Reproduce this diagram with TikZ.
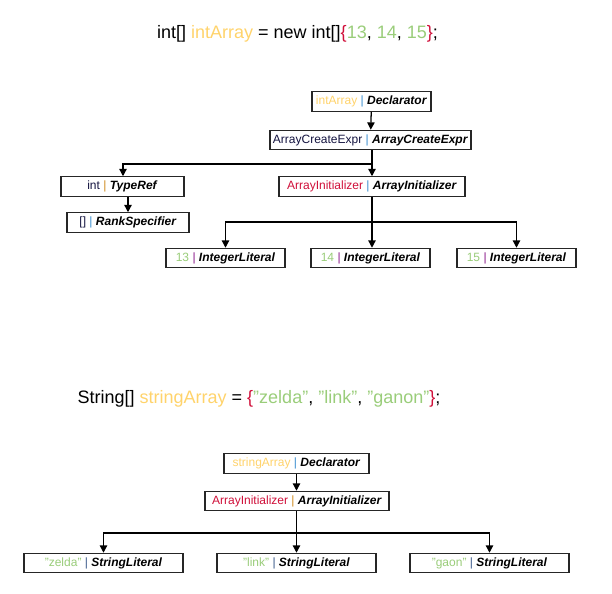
\documentclass[tikz,border=0pt]{standalone}
\usepackage{fontspec}
\setmainfont{Liberation Sans}
\usetikzlibrary{arrows.meta}
\definecolor{namecol}{HTML}{FFD36B}
\definecolor{barblue}{HTML}{3B8FD0}
\definecolor{barorange}{HTML}{D08A1E}
\definecolor{barpurple}{HTML}{8B1A8B}
\definecolor{bargrey}{HTML}{3B5B8B}
\definecolor{litgreen}{HTML}{9ACD7A}
\definecolor{crimson}{HTML}{D0103A}
\definecolor{navy}{HTML}{141440}
\newcommand{\kind}[1]{\textbf{\textit{#1}}}
\begin{document}
\begin{tikzpicture}[x=0.75pt,y=-0.75pt,
  astnode/.style={draw=black!85,line width=0.9pt,fill=white,inner sep=0pt,
    minimum height=14.5pt,font=\fontsize{9}{11}\selectfont},
  title/.style={inner sep=0pt,font=\fontsize{13.5}{16}\selectfont},
  link/.style={line width=0.95pt,-{Triangle[length=5.5pt,width=5.5pt]}}]
\useasboundingbox (0,0) rectangle (612,594);

% source line of the int array
\node[title] (t1) at (297.5,34) {int[] \textcolor{namecol}{intArray} = new int[]\textcolor{crimson}{\{}\textcolor{litgreen}{13}, \textcolor{litgreen}{14}, \textcolor{litgreen}{15}\textcolor{crimson}{\}};};

% syntax tree of the int array
\node[astnode,minimum width=89.25pt] (d1) at (371.5,101.5) {\textcolor{namecol}{intArray} \textcolor{barblue}{|} \kind{Declarator}};
\node[astnode,minimum width=150.75pt] (ace) at (370.5,140) {\textcolor{navy}{ArrayCreateExpr} \textcolor{barblue}{|} \kind{ArrayCreateExpr}};
\node[astnode,minimum width=92.25pt] (tr) at (122.5,186.5) {\textcolor{navy}{int} \textcolor{barorange}{|} \kind{TypeRef}};
\node[astnode,minimum width=139.5pt] (ai) at (372,186.5) {\textcolor{crimson}{ArrayInitializer} \textcolor{barblue}{|} \kind{ArrayInitializer}};
\node[astnode,minimum width=91.5pt] (rs) at (128,222.5) {\textcolor{navy}{[]} \textcolor{barblue}{|} \kind{RankSpecifier}};
\node[astnode,minimum width=89.25pt] (l13) at (225.5,258) {\textcolor{litgreen}{13} \textcolor{barpurple}{|} \kind{IntegerLiteral}};
\node[astnode,minimum width=89.25pt] (l14) at (370.5,258) {\textcolor{litgreen}{14} \textcolor{barpurple}{|} \kind{IntegerLiteral}};
\node[astnode,minimum width=89.25pt] (l15) at (516.5,258) {\textcolor{litgreen}{15} \textcolor{barpurple}{|} \kind{IntegerLiteral}};

\coordinate (b1) at (372,164);
\coordinate (b2) at (372,222);
\draw[link] (d1) -- (ace);
\draw[link] (ace.south -| b1) -- (ai.north -| b1);
\draw[link] (b1) -| (tr.north -| 123,0);
\draw[link] (tr.south -| rs) -- (rs.north);
\draw[line width=0.95pt] (ai.south -| b2) -- (b2);
\draw[link] (b2) -| (l13.north);
\draw[link] (b2) -- (l14.north -| b2);
\draw[link] (b2) -| (l15.north);

% source line of the string array
\node[title] (t2) at (259,399) {String[] \textcolor{namecol}{stringArray} = \textcolor{crimson}{\{}\textcolor{litgreen}{"zelda"}, \textcolor{litgreen}{"link"}, \textcolor{litgreen}{"ganon"}\textcolor{crimson}{\}};};

% syntax tree of the string array
\node[astnode,minimum width=108.75pt] (d2) at (296.5,463.5) {\textcolor{namecol}{stringArray} \textcolor{barblue}{|} \kind{Declarator}};
\node[astnode,minimum width=138pt] (ai2) at (297,501) {\textcolor{crimson}{ArrayInitializer} \textcolor{barorange}{|} \kind{ArrayInitializer}};
\node[astnode,minimum width=119.25pt] (s1) at (103.5,563) {\textcolor{litgreen}{"zelda"} \textcolor{bargrey}{|} \kind{StringLiteral}};
\node[astnode,minimum width=119.25pt] (s2) at (296.5,563) {\textcolor{litgreen}{"link"} \textcolor{bargrey}{|} \kind{StringLiteral}};
\node[astnode,minimum width=119.25pt] (s3) at (489.5,563) {\textcolor{litgreen}{"gaon"} \textcolor{bargrey}{|} \kind{StringLiteral}};

\coordinate (b3) at (296.5,533);
\draw[link] (d2.south -| b3) -- (ai2.north -| b3);
\draw[line width=0.95pt] (ai2.south -| b3) -- (b3);
\draw[link] (b3) -| (s1.north);
\draw[link] (b3) -- (s2.north);
\draw[link] (b3) -| (s3.north);
\end{tikzpicture}
\end{document}
